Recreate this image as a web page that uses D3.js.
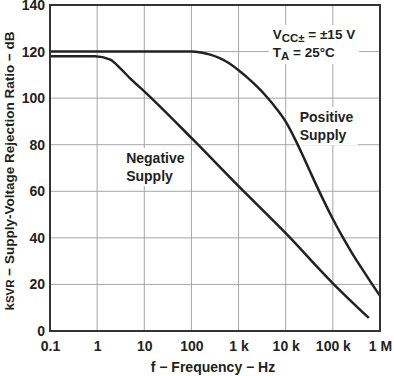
<!DOCTYPE html>
<html>
<head>
<meta charset="utf-8">
<script src="https://cdn.jsdelivr.net/npm/d3@7"></script>
<style>
  body { margin: 0; background: #fff; }
  svg text { font-family: "Liberation Sans", Arial, sans-serif; font-weight: bold; fill: #222; }
</style>
</head>
<body>
<svg id="chart" width="394" height="376"></svg>
<script>
// frequency (Hz) / rejection ratio (dB)
let freqTicks = [0.1, 1, 10, 100, 1e3, 1e4, 1e5, 1e6];
let freqLabels = ["0.1", "1", "10", "100", "1 k", "10 k", "100 k", "1 M"];
let dbTicks = [0, 20, 40, 60, 80, 100, 120, 140];

let positiveFreq = [0.1, 100, 158, 251, 398, 631, 1000, 1585, 2512, 3981, 6310, 10000,
                    15850, 25120, 39810, 63100, 100000, 158500, 251200, 398100, 631000, 1000000];
let positiveDb   = [120, 120, 119.6, 118.7, 117.2, 115, 112, 108.6, 104.8, 100.5, 95.6, 89.9,
                    82.3, 73.7, 64.8, 56.2, 48.1, 40.6, 33.7, 27.3, 21.1, 15.1];

let negativeFreq = [0.1, 0.9, 1.9, 3.06, 5, 10, 100, 1000, 10000, 100000, 580000];
let negativeDb   = [118, 118, 116.5, 112.9, 108.5, 102.9, 82.9, 62.2, 42, 20.5, 5.6];

let svg = d3.select("#chart");
let margin = {top: 5, right: 14, bottom: 44, left: 50};
let width = +svg.attr("width") - margin.left - margin.right;
let height = +svg.attr("height") - margin.top - margin.bottom;
let g = svg.append("g").attr("transform", "translate(" + margin.left + "," + margin.top + ")");

let x = d3.scaleLog().domain([0.1, 1e6]).range([0, width]);
let y = d3.scaleLinear().domain([0, 140]).range([height - 1, 0]);

// grid
g.append("g")
    .selectAll("line")
    .data(freqTicks.slice(1, -1))
    .enter().append("line")
    .attr("x1", d => x(d)).attr("x2", d => x(d))
    .attr("y1", 0).attr("y2", y(0))
    .attr("stroke", "#a6a6a6").attr("stroke-width", 1);

g.append("g")
    .selectAll("line")
    .data(dbTicks.slice(1, -1))
    .enter().append("line")
    .attr("x1", 0).attr("x2", width)
    .attr("y1", d => y(d)).attr("y2", d => y(d))
    .attr("stroke", "#a6a6a6").attr("stroke-width", 1);

// axes (labels only, frame drawn below)
let xAxis = g.append("g")
    .attr("transform", "translate(0," + y(0) + ")")
    .call(d3.axisBottom(x).tickValues(freqTicks).tickFormat((d, i) => freqLabels[i]).tickSize(0).tickPadding(10));
let yAxis = g.append("g")
    .call(d3.axisLeft(y).tickValues(dbTicks).tickSize(0).tickPadding(5));
[xAxis, yAxis].forEach(a => {
    a.select(".domain").remove();
    a.selectAll("text").attr("font-size", 14).attr("font-family", null).attr("fill", "#222");
});

// note boxes
function note(px, py, lines, opts) {
    let grp = g.append("g");
    let rect = grp.append("rect").attr("fill", "#fff");
    let txt = grp.append("text").attr("font-size", opts.size || 14);
    lines.forEach((ln, i) => {
        let t = txt.append("tspan").attr("x", px).attr("y", py + i * opts.lh);
        ln.forEach(part => {
            let s = t.append("tspan").text(part[0]);
            if (part[1]) s.attr("font-size", (opts.size || 14) * 0.85).attr("dy", 3);
            if (part[2]) s.attr("dy", -3);
        });
    });
    let bb = txt.node().getBBox();
    rect.attr("x", bb.x - 4).attr("y", bb.y - 2).attr("width", bb.width + 8).attr("height", bb.height + 4);
}

note(x(1e4) - 13, 34, [
    [["V"], ["CC±", true], [" = ±15 V", false, true]],
    [["T"], ["A", true], [" = 25°C", false, true]]
], {lh: 18, size: 13.5});
note(x(1e4) + 14, 117, [[["Positive"]], [["Supply"]]], {lh: 18});
note(x(1) + 29, 158, [[["Negative"]], [["Supply"]]], {lh: 18});

// curves
let line = d3.line().x(d => x(d[0])).y(d => y(d[1])).curve(d3.curveMonotoneX);
[[positiveFreq, positiveDb], [negativeFreq, negativeDb]].forEach(s => {
    g.append("path")
        .datum(s[0].map((f, i) => [f, s[1][i]]))
        .attr("fill", "none")
        .attr("stroke", "#222")
        .attr("stroke-width", 2.5)
        .attr("d", line);
});

// frame
g.append("rect")
    .attr("x", 0).attr("y", 0)
    .attr("width", width).attr("height", y(0))
    .attr("fill", "none").attr("stroke", "#333").attr("stroke-width", 2);

// axis titles
svg.append("text")
    .attr("x", margin.left + width / 2 - 2)
    .attr("y", 372)
    .attr("text-anchor", "middle")
    .attr("font-size", 14)
    .text("f − Frequency − Hz");

let yl = svg.append("text")
    .attr("transform", "translate(14," + (margin.top + 166) + ") rotate(-90)")
    .attr("text-anchor", "middle")
    .attr("font-size", 13.5);
yl.append("tspan").text("k");
yl.append("tspan").attr("font-size", 11.5).text("SVR");
yl.append("tspan").text(" − Supply-Voltage Rejection Ratio − dB");
</script>
</body>
</html>
